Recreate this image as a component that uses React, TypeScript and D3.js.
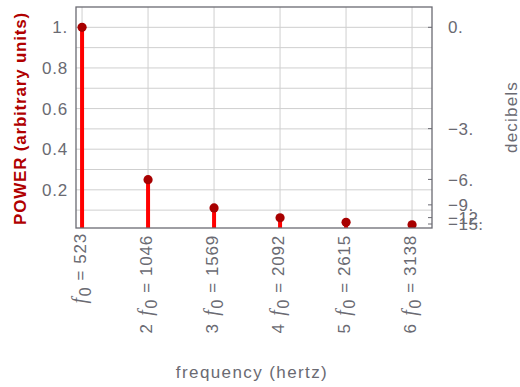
import React from 'react';
import * as d3 from 'd3';

const harmonics = [1, 2, 3, 4, 5, 6];
const frequencies = [523, 1046, 1569, 2092, 2615, 3138];
const power = [1, 0.25, 0.111, 0.0625, 0.04, 0.028];
const powerGrid = [0.1, 0.2, 0.3, 0.4, 0.5, 0.6, 0.7, 0.8, 0.9, 1];
const powerTicks = [0.2, 0.4, 0.6, 0.8, 1];
const powerTickLabels = ['0.2', '0.4', '0.6', '0.8', '1.'];
const dbTicks = [0, -3, -6, -9, -12, -15];
const dbTickLabels = ['0.', '\u22123.', '\u22126.', '\u22129.', '\u221212.', '\u221215.'];

const W = 520;
const H = 387;
const plot = { left: 76, right: 432, top: 7, bottom: 228 };
const font = '"Liberation Sans", Arial, sans-serif';
const grey = '#6a6a72';

export default function App() {
  const x = d3.scaleLinear().domain([475, 3296]).range([plot.left, plot.right]);
  const y = d3.scaleLinear().domain([0.012, 1.1]).range([plot.bottom, plot.top]);
  const dbToPower = (db: number) => Math.pow(10, db / 10);

  return (
    <div style={{ position: 'absolute', left: 0, top: 0 }}>
      <svg width={W} height={H} style={{ display: 'block', background: '#fff' }}>
        <defs>
          <clipPath id="plotClip">
            <rect x={plot.left} y={plot.top} width={plot.right - plot.left} height={plot.bottom - plot.top} />
          </clipPath>
        </defs>

        {/* grid */}
        {powerGrid.map((v) => (
          <line key={'h' + v} x1={plot.left} x2={plot.right} y1={y(v)} y2={y(v)} stroke="#cfcfcf" strokeWidth={1} />
        ))}
        {frequencies.map((f) => (
          <line key={'v' + f} x1={x(f)} x2={x(f)} y1={plot.top} y2={plot.bottom} stroke="#cfcfcf" strokeWidth={1} />
        ))}

        {/* stems */}
        <g clipPath="url(#plotClip)">
          {frequencies.map((f, i) => (
            <line key={'s' + f} x1={x(f)} x2={x(f)} y1={y(power[i])} y2={plot.bottom + 2}
              stroke="#ff0000" strokeWidth={4} />
          ))}
          {frequencies.map((f, i) => (
            <circle key={'p' + f} cx={x(f)} cy={y(power[i])} r={4.6} fill="#a80000" />
          ))}
        </g>

        {/* frame */}
        <rect x={plot.left} y={plot.top} width={plot.right - plot.left} height={plot.bottom - plot.top}
          fill="none" stroke={grey} strokeWidth={1.3} />

        {/* left ticks */}
        {powerTicks.map((v, i) => (
          <text key={'lt' + v} x={plot.left - 8} y={y(v)} dy="0.36em" textAnchor="end"
            fontFamily={font} fontSize={17} letterSpacing={0.8} fill={grey}>{powerTickLabels[i]}</text>
        ))}

        {/* right dB ticks */}
        {dbTicks.map((d, i) => (
          <g key={'rt' + d}>
            <line x1={plot.right - 4} x2={plot.right} y1={y(dbToPower(d))} y2={y(dbToPower(d))} stroke={grey} strokeWidth={1} />
            <text x={plot.right + 16} y={y(dbToPower(d))} dy="0.36em" textAnchor="start"
              fontFamily={font} fontSize={17} letterSpacing={0.5} fill={grey}>{dbTickLabels[i]}</text>
          </g>
        ))}

        {/* bottom tick labels */}
        {frequencies.map((f, i) => (
          <text key={'bt' + f} transform={`translate(${x(f) + 4},${plot.bottom + 7}) rotate(-90)`}
            textAnchor="end" fontFamily={font} fontSize={17} letterSpacing={0.8} fill={grey}>
            {harmonics[i] > 1 ? harmonics[i] + ' ' : ''}
            <tspan fontStyle="italic" fontFamily='"Liberation Serif", serif' fontSize={20} dx={2}>f</tspan>
            <tspan fontSize={16} dy={5} dx={1}>0</tspan>
            <tspan dy={-5} dx={6}>=</tspan>
            <tspan dx={6}>{f}</tspan>
          </text>
        ))}

        {/* axis titles */}
        <text transform={`translate(26,${(plot.top + plot.bottom) / 2 + 1}) rotate(-90)`} textAnchor="middle"
          fontFamily={font} fontSize={17} fontWeight="bold" letterSpacing={0.8} fill="#b00000">POWER (arbitrary units)</text>
        <text transform={`translate(517,117) rotate(-90)`} textAnchor="middle"
          fontFamily={font} fontSize={17} letterSpacing={1.2} fill={grey}>decibels</text>
        <text x={252} y={378} textAnchor="middle" fontFamily={font} fontSize={17} letterSpacing={1.4}
          fill={grey}>frequency (hertz)</text>
      </svg>
    </div>
  );
}
